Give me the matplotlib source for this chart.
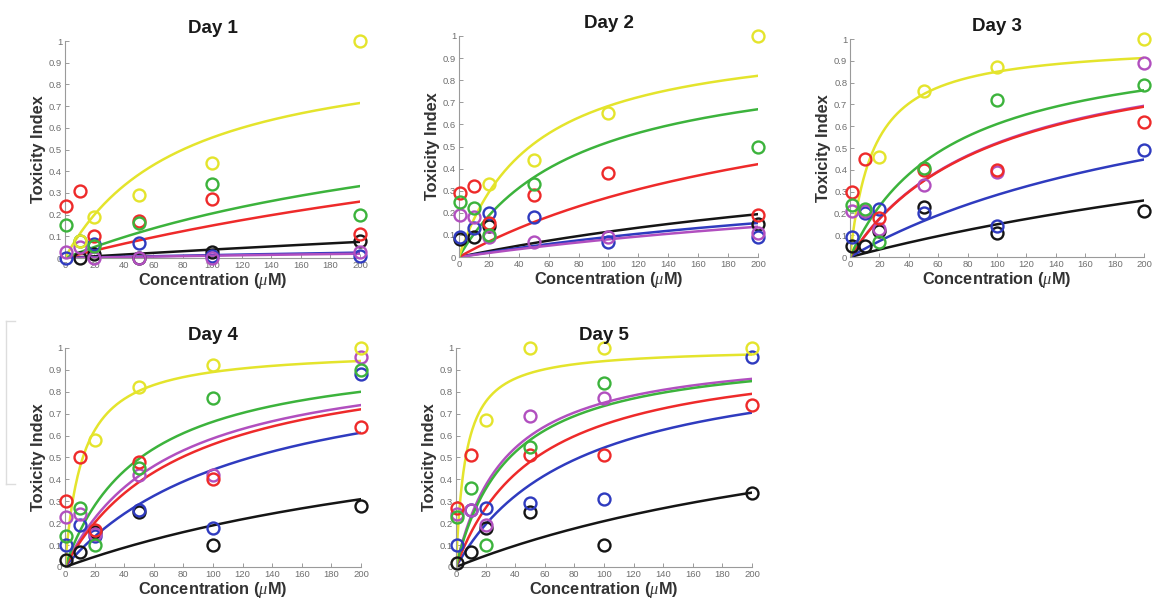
import numpy as np
import matplotlib
matplotlib.use("Agg")
import matplotlib.pyplot as plt
from matplotlib.lines import Line2D

plt.rcParams["font.family"] = ["Liberation Sans", "DejaVu Sans"]
plt.rcParams["mathtext.fontset"] = "custom"
plt.rcParams["mathtext.it"] = "Liberation Serif:italic"
plt.rcParams["mathtext.rm"] = "Liberation Sans:bold"

nan = np.nan
conc = [1, 10, 20, 50, 100, 200]
series = ["black", "blue", "purple", "red", "green", "yellow"]
colors = {"black": "#151515", "blue": "#2f3bbf", "purple": "#b14fbf",
          "red": "#ee2a2a", "green": "#3cb33c", "yellow": "#e4e42c"}
days = ["Day 1", "Day 2", "Day 3", "Day 4", "Day 5"]

# measured points per day (nan = not visible in the figure)
d1 = {"black": [nan, 0.0, 0.02, 0.0, 0.03, 0.08],
      "blue": [0.0, nan, 0.065, 0.07, 0.01, 0.01],
      "purple": [0.03, 0.05, 0.0, 0.0, 0.0, 0.03],
      "red": [0.24, 0.31, 0.10, 0.17, 0.27, 0.11],
      "green": [0.15, 0.08, 0.055, 0.16, 0.34, 0.20],
      "yellow": [nan, 0.08, 0.19, 0.29, 0.44, 1.0]}
d2 = {"black": [0.08, 0.09, 0.14, nan, nan, 0.15],
      "blue": [0.09, 0.13, 0.20, 0.18, 0.07, 0.09],
      "purple": [0.19, 0.18, 0.09, 0.07, 0.09, 0.11],
      "red": [0.29, 0.32, 0.155, 0.28, 0.38, 0.19],
      "green": [0.25, 0.22, 0.10, 0.33, nan, 0.50],
      "yellow": [nan, nan, 0.33, 0.44, 0.65, 1.0]}
d3 = {"black": [0.05, 0.05, 0.12, 0.23, 0.11, 0.21],
      "blue": [0.09, 0.20, 0.22, 0.20, 0.14, 0.49],
      "purple": [0.21, 0.21, 0.13, 0.33, 0.39, 0.89],
      "red": [0.30, 0.45, 0.18, 0.40, 0.40, 0.62],
      "green": [0.24, 0.22, 0.07, 0.41, 0.72, 0.79],
      "yellow": [nan, nan, 0.46, 0.76, 0.87, 1.0]}
d4 = {"black": [0.03, 0.07, 0.16, 0.25, 0.10, 0.28],
      "blue": [0.10, 0.19, 0.14, 0.26, 0.18, 0.88],
      "purple": [0.23, 0.24, 0.15, 0.42, 0.42, 0.96],
      "red": [0.30, 0.50, 0.17, 0.48, 0.40, 0.64],
      "green": [0.14, 0.27, 0.10, 0.45, 0.77, 0.90],
      "yellow": [nan, nan, 0.58, 0.82, 0.92, 1.0]}
d5 = {"black": [0.02, 0.07, 0.18, 0.25, 0.10, 0.34],
      "blue": [0.10, 0.26, 0.27, 0.29, 0.31, 0.96],
      "purple": [0.24, 0.26, 0.19, 0.69, 0.77, nan],
      "red": [0.27, 0.51, nan, 0.51, 0.51, 0.74],
      "green": [0.23, 0.36, 0.10, 0.55, 0.84, nan],
      "yellow": [nan, nan, 0.67, 1.0, 1.0, 1.0]}
points = [d1, d2, d3, d4, d5]

# fitted curve parameters (Emax, EC50) per day
e1 = {"black": 0.82, "blue": 0.15, "purple": 0.12, "red": 0.975, "green": 0.85, "yellow": 1.0}
k1 = {"black": 2000, "blue": 1000, "purple": 1000, "red": 550, "green": 313, "yellow": 80}
e2 = {"black": 0.63, "blue": 0.5, "purple": 0.48, "red": 0.945, "green": 0.936, "yellow": 1.025}
k2 = {"black": 450, "blue": 450, "purple": 500, "red": 250, "green": 80, "yellow": 50}
e3 = {"black": 0.96, "blue": 1.04, "purple": 1.03, "red": 1.024, "green": 1.025, "yellow": 0.986}
k3 = {"black": 540, "blue": 265, "purple": 97, "red": 97, "green": 68, "yellow": 16}
e4 = {"black": 0.836, "blue": 0.99, "purple": 0.998, "red": 1.008, "green": 1.008, "yellow": 0.997}
k4 = {"black": 340, "blue": 123, "purple": 70, "red": 80, "green": 52, "yellow": 12}
e5 = {"black": 0.9, "blue": 0.997, "purple": 1.005, "red": 1.008, "green": 1.004, "yellow": 1.002}
k5 = {"black": 330, "blue": 83, "purple": 34, "red": 55, "green": 36.6, "yellow": 6.6}
emax = [e1, e2, e3, e4, e5]
ec50 = [k1, k2, k3, k4, k5]

xticks = list(range(0, 201, 20))
yticks = [round(0.1 * i, 1) for i in range(11)]
ytick_labels = ["0", "0.1", "0.2", "0.3", "0.4", "0.5", "0.6", "0.7", "0.8", "0.9", "1"]

fig = plt.figure(figsize=(11.54, 6.04), dpi=100)
fig.patch.set_facecolor("white")

positions = [
    [0.0563, 0.5728, 0.2556, 0.3593],
    [0.3977, 0.5745, 0.2591, 0.3659],
    [0.7366, 0.5745, 0.2548, 0.3609],
    [0.0563, 0.0613, 0.2565, 0.3626],
    [0.3951, 0.0613, 0.2565, 0.3626],
]

xs = np.linspace(0, 200, 400)
for i, day in enumerate(days):
    ax = fig.add_axes(positions[i])
    for s in series:
        c = colors[s]
        E = emax[i][s]
        K = ec50[i][s]
        ax.plot(xs, E * xs / (K + xs), color=c, lw=1.8, zorder=2)
    for s in series:
        ax.plot(conc, points[i][s], ls="none", marker="o", ms=8.6,
                mfc="none", mec=colors[s], mew=1.7, clip_on=False, zorder=3)
    ax.set_xlim(0, 200)
    ax.set_ylim(0, 1)
    ax.set_xticks(xticks)
    ax.set_yticks(yticks)
    ax.set_yticklabels(ytick_labels)
    for sp in ["top", "right"]:
        ax.spines[sp].set_visible(False)
    for sp in ["left", "bottom"]:
        ax.spines[sp].set_color("#9a9a9a")
        ax.spines[sp].set_linewidth(0.8)
    ax.tick_params(direction="in", length=3, width=0.7, colors="#9a9a9a",
                   labelsize=6.8, labelcolor="#6f6f6f", pad=2)
    ax.set_title(day, fontsize=13.5, fontweight="bold", pad=6, color="#1a1a1a")
    ax.set_xlabel(r"Concentration ($\mu$M)", fontsize=11.8, fontweight="bold",
                  color="#333333", labelpad=1)
    ax.set_ylabel("Toxicity Index", fontsize=11.8, fontweight="bold",
                  color="#333333", labelpad=2)

# faint bracket at left of Day 4 panel
for seg in [([0.0052, 0.0052], [0.198, 0.468]),
            ([0.0052, 0.013], [0.468, 0.468]),
            ([0.0052, 0.013], [0.198, 0.198])]:
    fig.add_artist(Line2D(seg[0], seg[1], color="#dddddd", lw=1.0,
                          transform=fig.transFigure))

fig.savefig("out.png", dpi=100, facecolor="white")
